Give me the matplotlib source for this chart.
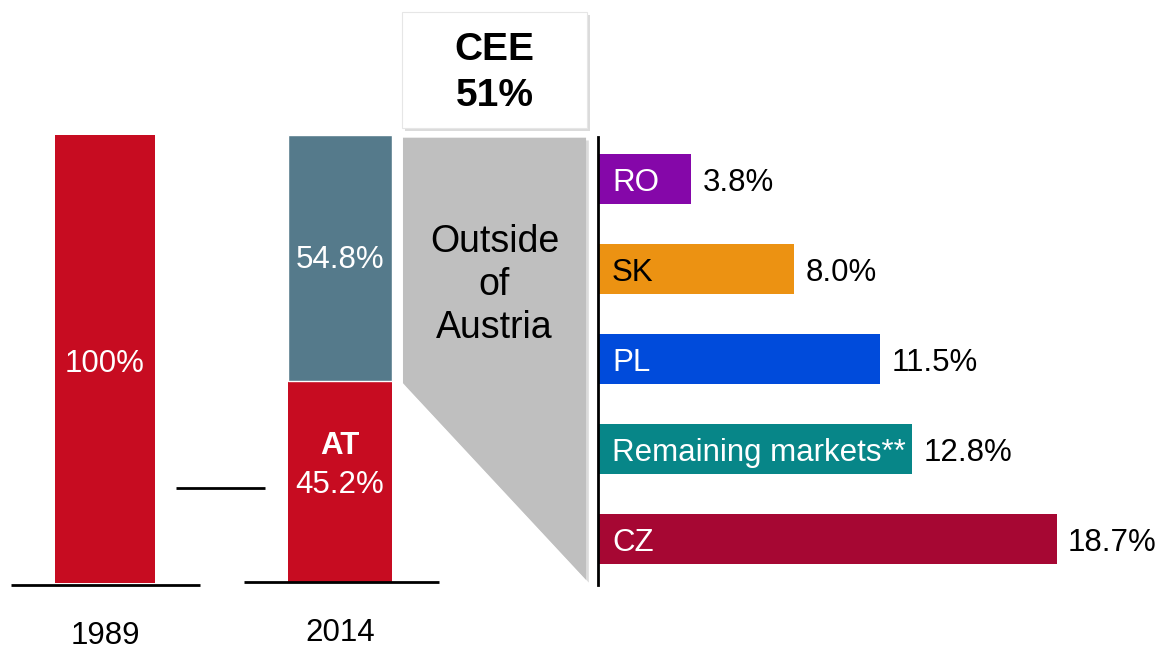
import matplotlib.pyplot as plt
import matplotlib.patheffects as pe
from matplotlib.patches import Polygon, Rectangle

plt.rcParams['font.family'] = ['Liberation Sans', 'DejaVu Sans']

# left part: revenue split 1989 vs 2014
years = ['1989', '2014']
austria_share = [100.0, 45.2]
outside_share = [0.0, 54.8]
cee_share = 51

# right part: CEE markets
markets = ['RO', 'SK', 'PL', 'Remaining markets**', 'CZ']
market_share = [3.8, 8.0, 11.5, 12.8, 18.7]
market_colors = ['#8507A9', '#EC9212', '#004BDB', '#078688', '#A60733']
label_colors = ['white', 'black', 'white', 'white', 'white']

red = '#C70C21'
slate = '#557A8B'
grey = '#BFBFBF'
fs = 22.5

fig = plt.figure(figsize=(11.59, 6.49), dpi=100)

# ---- left axes (stacked columns) ----
ax = fig.add_axes([0, 66 / 649, 600 / 1159, 448 / 649])
ax.set_xlim(-105 / 235, 495 / 235)
ax.set_ylim(0, 100)
ax.axis('off')

x = [0, 1]
ax.bar(x[0], austria_share[0], width=0.426, color=red)
ax.bar(x[1], austria_share[1], width=0.443, color=red)
ax.bar(x[1], outside_share[1], bottom=austria_share[1], width=0.443,
       color=slate, edgecolor='white', linewidth=1)

# baselines and connector
ax.hlines(-0.4, -0.40, 0.404, color='black', lw=2, clip_on=False)
ax.hlines(0.2, 0.591, 1.421, color='black', lw=2, clip_on=False)
ax.hlines(21.2, 0.302, 0.68, color='black', lw=2)

ax.text(x[0], 48.8, '100%', color='white', fontsize=fs, ha='center', va='center')
ax.text(x[1], 72.0, f'{outside_share[1]:.1f}%', color='white', fontsize=fs,
        ha='center', va='center')
ax.text(x[1], 30.6, 'AT', color='white', fontsize=fs, fontweight='bold',
        ha='center', va='center')
ax.text(x[1], 21.8, f'{austria_share[1]:.1f}%', color='white', fontsize=fs,
        ha='center', va='center')

ax.text(x[0], -11.8, years[0], fontsize=fs, ha='center', va='center', clip_on=False)
ax.text(x[1], -11.1, years[1], fontsize=fs, ha='center', va='center', clip_on=False)

# grey funnel "Outside of Austria"
gx0, gx1 = 1.268, 2.047
funnel = Polygon([(gx0, 99.4), (gx1, 99.4), (gx1, 0.7), (gx0, 44.6)],
                 closed=True, facecolor=grey, edgecolor='none', clip_on=False,
                 path_effects=[pe.SimplePatchShadow(offset=(2, -2), shadow_rgbFace='#999999', alpha=0.35),
                               pe.Normal()])
ax.add_patch(funnel)
ax.text((gx0 + gx1) / 2, 66.5, 'Outside\nof\nAustria', fontsize=27, ha='center',
        va='center', linespacing=1.25)

# CEE box
box = Rectangle((1.264, 101.6), 0.787, 25.9, facecolor='white', edgecolor='#E6E6E6',
                lw=0.8, clip_on=False,
                path_effects=[pe.SimplePatchShadow(offset=(2, -2), shadow_rgbFace='#999999', alpha=0.35),
                              pe.Normal()])
ax.add_patch(box)
ax.text((gx0 + gx1) / 2, 119.0, 'CEE', fontsize=28, fontweight='bold',
        ha='center', va='center', clip_on=False)
ax.text((gx0 + gx1) / 2, 108.8, f'{cee_share}%', fontsize=28, fontweight='bold',
        ha='center', va='center', clip_on=False)

# ---- right axes (horizontal bars) ----
ax2 = fig.add_axes([598 / 1159, 64 / 649, 561 / 1159, 448 / 649])
ax2.patch.set_alpha(0)
scale = 24.55
ax2.set_xlim(0, 561 / scale)
y = list(range(len(markets)))
ax2.set_ylim(4 + 46 / 90, -42 / 90)
ax2.barh(y, market_share, height=0.555, color=market_colors)

for i, (name, val) in enumerate(zip(markets, market_share)):
    ax2.text(14 / scale, i + 0.04, name, color=label_colors[i], fontsize=fs,
             ha='left', va='center')
    ax2.text(val + 11 / scale, i + 0.04, f'{val:.1f}%', color='black', fontsize=fs,
             ha='left', va='center')

for s in ['top', 'right', 'bottom']:
    ax2.spines[s].set_visible(False)
ax2.spines['left'].set_linewidth(2)
ax2.set_xticks([])
ax2.set_yticks([])

fig.savefig('out.png', dpi=100)
